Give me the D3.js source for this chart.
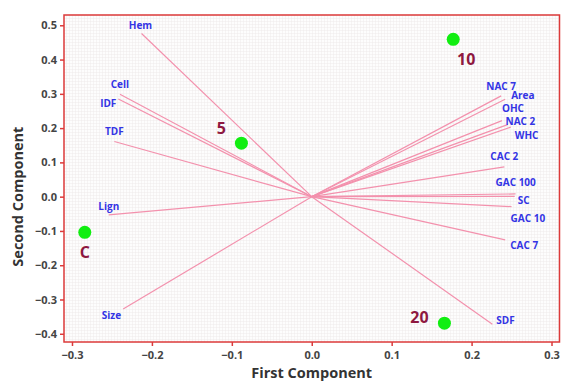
<!DOCTYPE html>
<html>
<head>
<meta charset="utf-8">
<script src="https://cdn.jsdelivr.net/npm/d3@7"></script>
<style>
  body { margin: 0; background: #fff; }
  text { font-family: "Open Sans", "DejaVu Sans", sans-serif; }
</style>
</head>
<body>
<div id="chart"></div>
<script>
// loadings (variables)
const varNames = ["Hem", "Cell", "IDF", "TDF", "Lign", "Size", "NAC 7", "Area", "OHC", "NAC 2", "WHC", "CAC 2", "GAC 100", "SC", "GAC 10", "CAC 7", "SDF"]
const varPC1 = [-0.213, -0.240, -0.242, -0.247, -0.254, -0.236, 0.237, 0.242, 0.238, 0.245, 0.249, 0.241, 0.255, 0.254, 0.250, 0.242, 0.226]
const varPC2 = [0.476, 0.299, 0.285, 0.161, -0.053, -0.328, 0.294, 0.284, 0.222, 0.210, 0.203, 0.087, 0.008, 0.001, -0.029, -0.126, -0.372]

// scores (samples)
const sampleNames = ["C", "5", "10", "20"]
const samplePC1 = [-0.284, -0.088, 0.177, 0.166]
const samplePC2 = [-0.104, 0.156, 0.459, -0.369]

const xTicks = [-0.3, -0.2, -0.1, 0.0, 0.1, 0.2, 0.3]
const yTicks = [-0.4, -0.3, -0.2, -0.1, 0.0, 0.1, 0.2, 0.3, 0.4, 0.5]

const width = 561, height = 381
const margin = { top: 15, right: 1, bottom: 39, left: 64 }

// label placement relative to the arrow tip (pixels)
const varLabelPos = {
  "Hem": [-1, -5, "middle"], "Cell": [0, -6, "middle"], "IDF": [-2, 8, "end"],
  "TDF": [0, -6, "middle"], "Lign": [0, -5, "middle"], "Size": [-2, 10, "end"],
  "NAC 7": [0, -6, "middle"], "Area": [6, 0, "start"], "OHC": [0, -9, "start"],
  "NAC 2": [-2, 0, "start"], "WHC": [4, 12, "start"], "CAC 2": [0, -7, "middle"],
  "GAC 100": [-20, -8, "start"], "SC": [3, 8, "start"], "GAC 10": [-1, 15, "start"],
  "CAC 7": [5, 9, "start"], "SDF": [4, 0, "start"]
}
const sampleLabelPos = {
  "C": [0, 26, "middle"], "5": [-20, -9, "middle"], "10": [13, 26, "middle"], "20": [-25, 0, "middle"]
}

const svg = d3.select("#chart").append("svg")
  .attr("width", width).attr("height", height)

const x = d3.scaleLinear().domain([-0.31, 0.31]).range([margin.left, width - margin.right - 0.5])
const y = d3.scaleLinear().domain([-0.424, 0.53]).range([height - margin.bottom, margin.top])

// faint background grid
const defs = svg.append("defs")
const pat = defs.append("pattern").attr("id", "grid")
  .attr("width", 3).attr("height", 3).attr("patternUnits", "userSpaceOnUse")
pat.append("rect").attr("width", 3).attr("height", 3).attr("fill", "#fdfdfd")
pat.append("path").attr("d", "M0,0.5H3M0.5,0V3").attr("stroke", "#efeaea").attr("stroke-width", 0.5)

const x0 = x.range()[0], x1 = x.range()[1], y0 = y.range()[1], y1 = y.range()[0]
svg.append("rect")
  .attr("x", x0).attr("y", y0).attr("width", x1 - x0).attr("height", y1 - y0)
  .attr("fill", "url(#grid)")

// loading lines
const vars = varNames.map((n, i) => ({ name: n, pc1: varPC1[i], pc2: varPC2[i] }))
svg.append("g").selectAll("line").data(vars).join("line")
  .attr("x1", x(0)).attr("y1", y(0))
  .attr("x2", d => x(d.pc1)).attr("y2", d => y(d.pc2))
  .attr("stroke", "#f391ad").attr("stroke-width", 1.2)

svg.append("g").selectAll("text").data(vars).join("text")
  .attr("x", d => x(d.pc1) + varLabelPos[d.name][0])
  .attr("y", d => y(d.pc2) + varLabelPos[d.name][1])
  .attr("text-anchor", d => varLabelPos[d.name][2])
  .attr("font-size", 10).attr("font-weight", "bold").attr("fill", "#3434e4")
  .text(d => d.name)

// sample points
const samples = sampleNames.map((n, i) => ({ name: n, pc1: samplePC1[i], pc2: samplePC2[i] }))
svg.append("g").selectAll("circle").data(samples).join("circle")
  .attr("cx", d => x(d.pc1)).attr("cy", d => y(d.pc2)).attr("r", 6.5)
  .attr("fill", "#11ee11")

svg.append("g").selectAll("text").data(samples).join("text")
  .attr("x", d => x(d.pc1) + sampleLabelPos[d.name][0])
  .attr("y", d => y(d.pc2) + sampleLabelPos[d.name][1])
  .attr("text-anchor", "middle")
  .attr("font-size", 16).attr("font-weight", "bold").attr("fill", "#8e1840")
  .text(d => d.name)

// frame
svg.append("rect")
  .attr("x", x0).attr("y", y0).attr("width", x1 - x0).attr("height", y1 - y0)
  .attr("fill", "none").attr("stroke", "#dc3a3a").attr("stroke-width", 1.5)

const fmt = d3.format(".1f")

const xAxis = svg.append("g")
  .attr("transform", `translate(0,${y1})`)
  .call(d3.axisBottom(x).tickValues(xTicks).tickFormat(fmt).tickSize(4).tickSizeOuter(0))
xAxis.select(".domain").remove()
xAxis.selectAll("line").attr("stroke", "#dc3a3a").attr("stroke-width", 1.5)
xAxis.selectAll("text").attr("font-size", 11).attr("font-weight", "bold").attr("fill", "#444")
  .attr("font-family", "'Open Sans', sans-serif").attr("dy", "0.9em")

const yAxis = svg.append("g")
  .attr("transform", `translate(${x0},0)`)
  .call(d3.axisLeft(y).tickValues(yTicks).tickFormat(fmt).tickSize(4).tickSizeOuter(0))
yAxis.select(".domain").remove()
yAxis.selectAll("line").attr("stroke", "#dc3a3a").attr("stroke-width", 1.5)
yAxis.selectAll("text").attr("font-size", 11).attr("font-weight", "bold").attr("fill", "#444")
  .attr("font-family", "'Open Sans', sans-serif")

// axis titles
svg.append("text")
  .attr("x", x(0)).attr("y", 378)
  .attr("text-anchor", "middle").attr("font-size", 14.5).attr("font-weight", "bold").attr("fill", "#333")
  .text("First Component")

svg.append("text")
  .attr("transform", `translate(23,${y(0)}) rotate(-90)`)
  .attr("text-anchor", "middle").attr("font-size", 14.5).attr("font-weight", "bold").attr("fill", "#333")
  .text("Second Component")
</script>
</body>
</html>
